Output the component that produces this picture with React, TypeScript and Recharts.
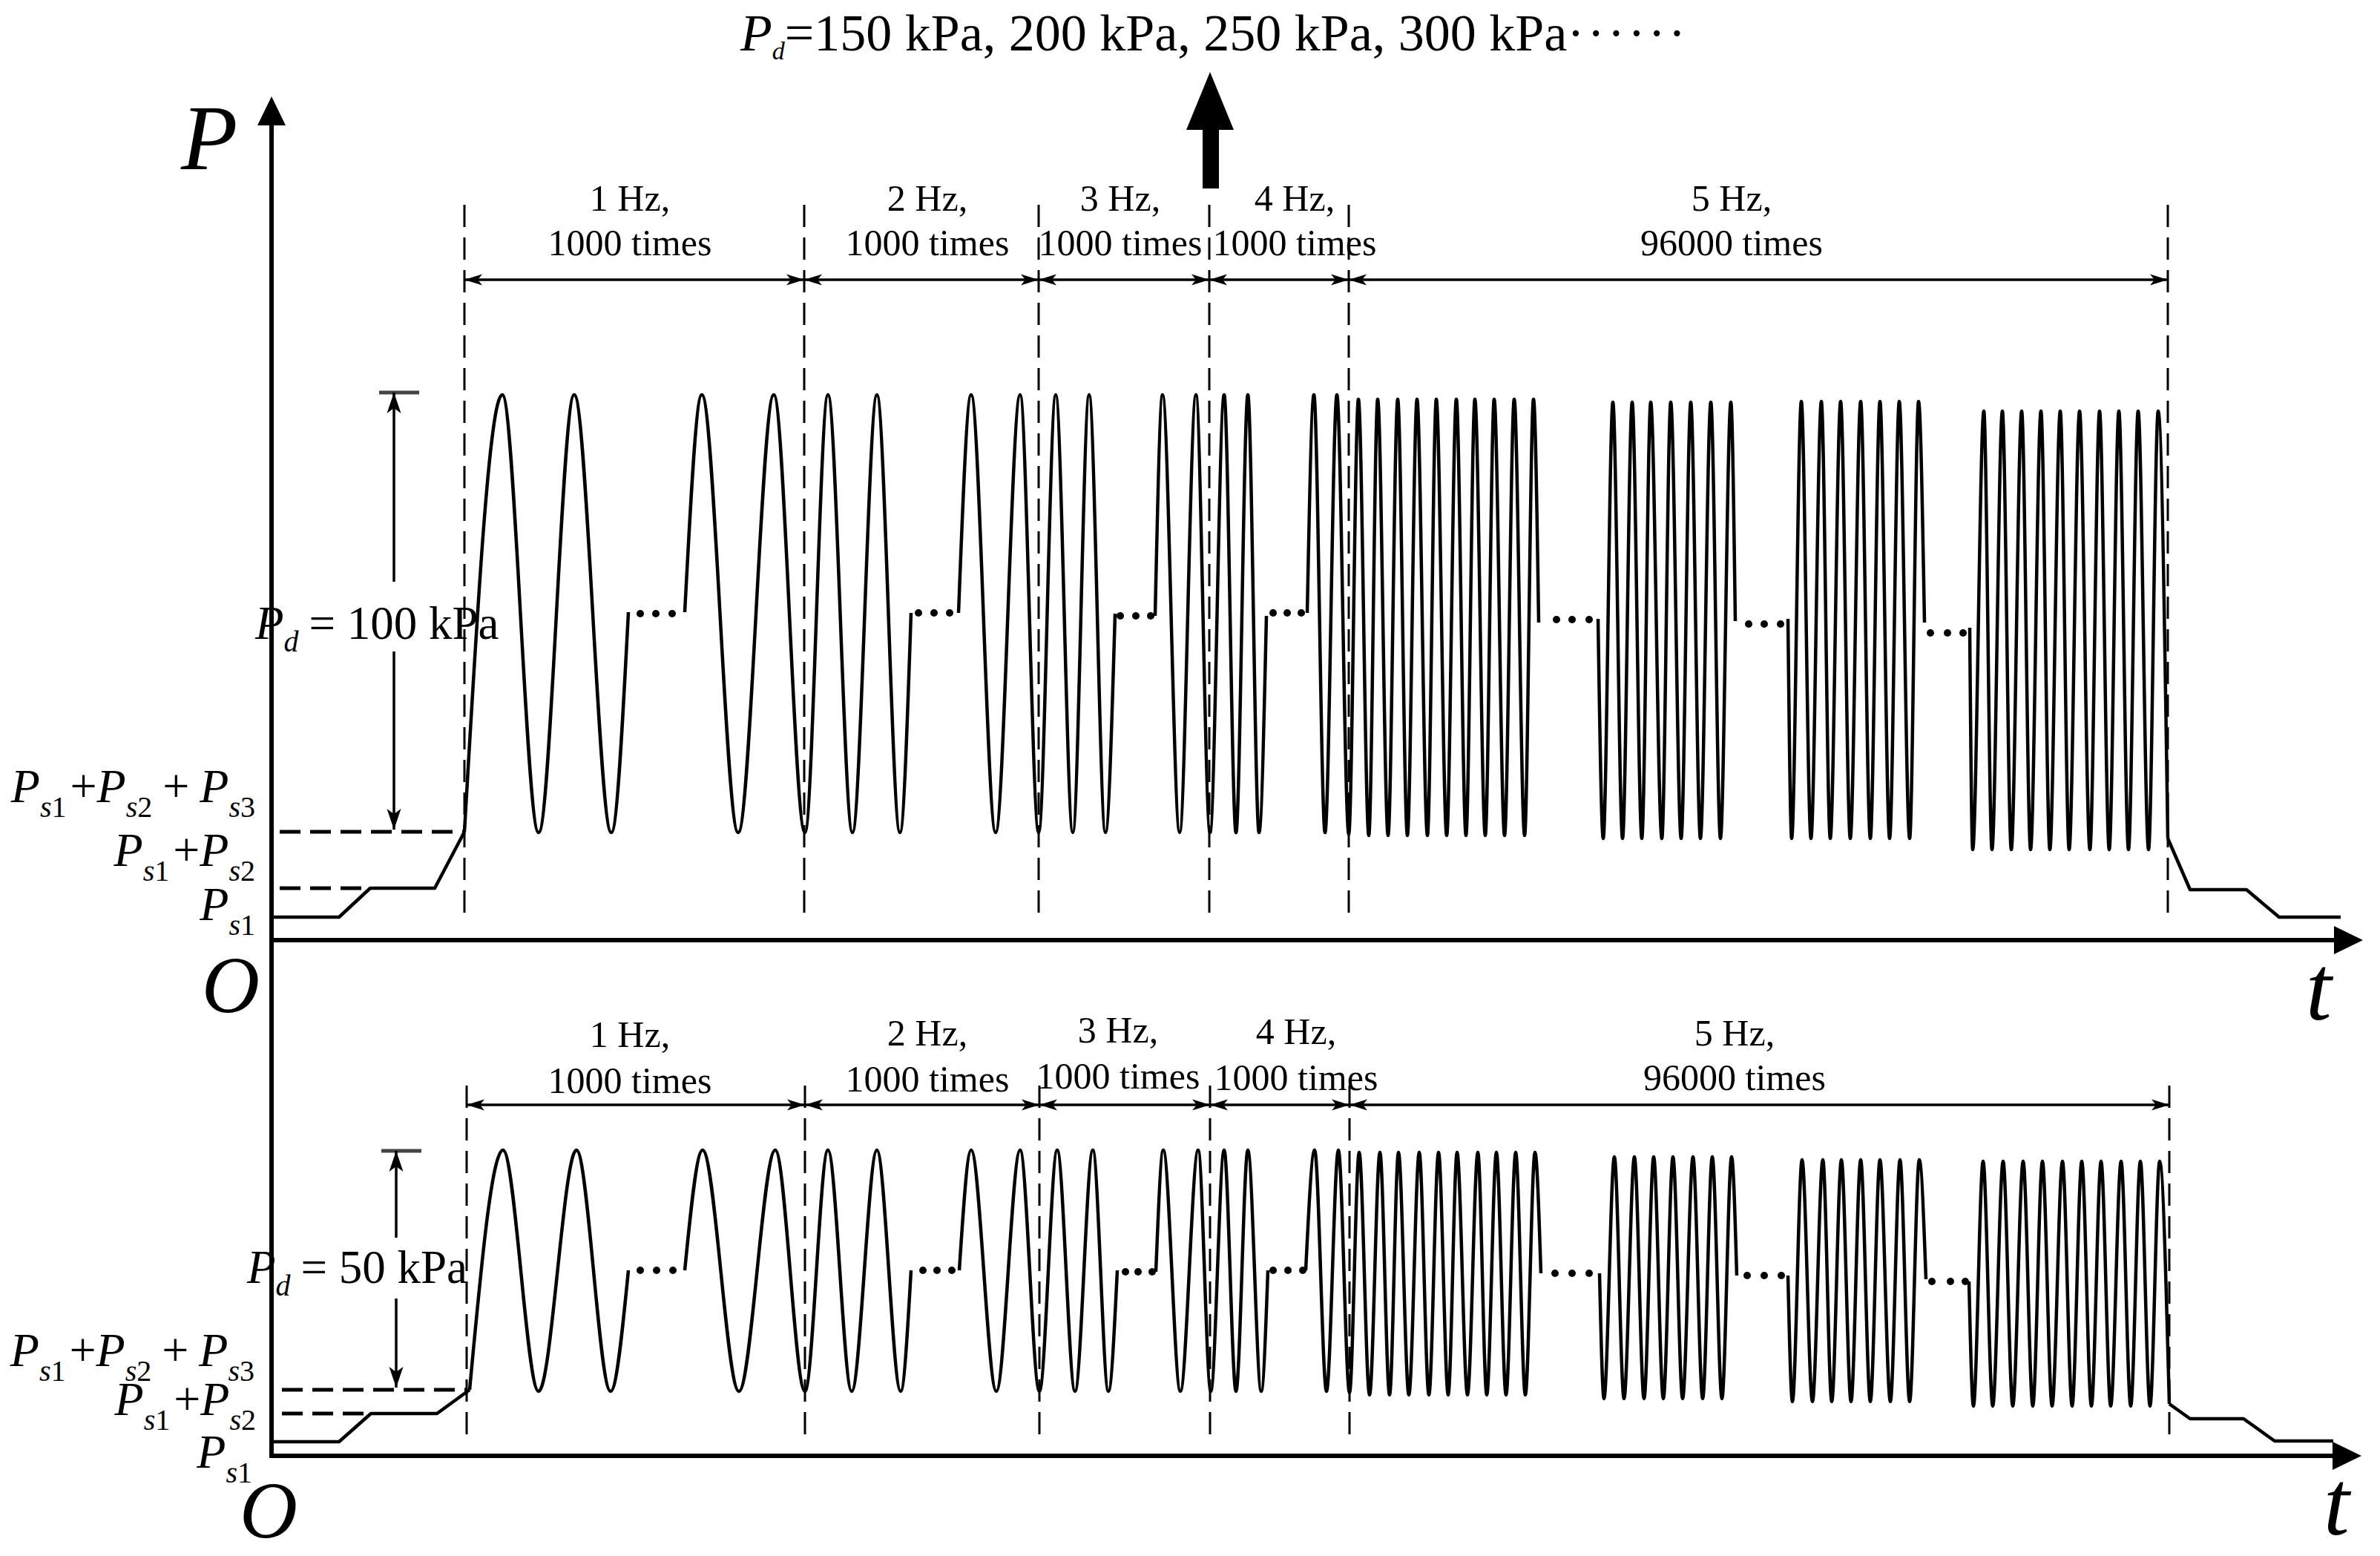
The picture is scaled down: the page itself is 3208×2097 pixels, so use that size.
import React from 'react';
import { ComposedChart, Line, XAxis, YAxis, ReferenceLine } from 'recharts';

const W = 3208;
const H = 2097;

// t: schematic time units from the origin; p: schematic pressure units above each t-axis
type Pt = [number, number];

// ---- upper panel (Pd = 100 kPa) ----
const topStart: Pt[] = [[0, 31], [91, 31], [133, 70], [220, 70], [260, 146]];
const topWaveA: Pt[] = [[260, 146], [311, 735], [360, 145], [408, 735], [458, 145], [481, 442]];
const topWaveB: Pt[] = [[557, 442], [580, 735], [629, 145], [677, 735], [719, 145], [750, 735], [783, 145], [816, 735], [847, 145], [862, 441]];
const topWaveC: Pt[] = [[926, 441], [943, 735], [976, 145], [1009, 735], [1034, 145], [1057, 735], [1080, 145], [1102, 735], [1124, 145], [1137, 440]];
const topWaveD: Pt[] = [[1191, 437], [1201, 735], [1224, 145], [1246, 735], [1265, 145], [1284, 735], [1300, 145], [1316, 735], [1331, 145], [1341, 437]];
const topWaveE: Pt[] = [[1396, 441], [1405, 735], [1420, 145], [1436, 735], [1452, 143], [1465, 729], [1479, 141], [1491, 729], [1505, 141], [1518, 729], [1531, 141], [1544, 729], [1558, 141], [1570, 729], [1584, 141], [1597, 729], [1610, 141], [1622, 729], [1636, 141], [1648, 729], [1662, 141], [1675, 729], [1689, 141], [1701, 729], [1708, 428]];
const topWaveF: Pt[] = [[1788, 433], [1795, 137], [1808, 725], [1821, 137], [1834, 725], [1847, 137], [1859, 725], [1874, 137], [1886, 725], [1900, 137], [1913, 725], [1926, 137], [1940, 725], [1953, 137], [1967, 725], [1973, 430]];
const topWaveG: Pt[] = [[2044, 433], [2049, 137], [2062, 726], [2075, 137], [2089, 726], [2101, 137], [2115, 726], [2128, 137], [2142, 726], [2155, 137], [2168, 726], [2181, 137], [2194, 726], [2208, 137], [2220, 726], [2228, 428]];
const topWaveH: Pt[] = [[2289, 421], [2293, 122], [2308, 713], [2319, 122], [2333, 713], [2345, 122], [2359, 713], [2371, 122], [2385, 713], [2397, 122], [2411, 713], [2423, 122], [2437, 713], [2451, 122], [2464, 713], [2477, 122], [2490, 713], [2503, 122], [2516, 713], [2530, 122], [2543, 713], [2556, 137]];
const topEnd: Pt[] = [[2556, 137], [2586, 68], [2662, 68], [2706, 31], [2789, 31]];
const topDots: Pt[] = [
  [497, 440], [518, 440], [540, 440],
  [872, 441], [893, 441], [914, 441],
  [1144, 437], [1165, 437], [1185, 437],
  [1350, 441], [1369, 441], [1388, 441],
  [1732, 432], [1753, 432], [1776, 432],
  [1991, 426], [2012, 426], [2034, 426],
  [2236, 414], [2259, 414], [2280, 414],
];
const topBounds = [260, 718, 1034, 1264, 1452, 2556];
const topLevels = { ps1: 31, ps12: 70, ps123: 146, peak: 738 };

// ---- lower panel (Pd = 50 kPa) ----
const botStart: Pt[] = [[0, 19], [91, 19], [134, 57], [223, 57], [267, 89]];
const botWaveA: Pt[] = [[267, 89], [312, 412], [360, 87], [411, 412], [457, 87], [481, 250]];
const botWaveB: Pt[] = [[557, 250], [581, 412], [630, 87], [679, 412], [719, 87], [750, 412], [782, 87], [816, 412], [848, 87], [862, 250]];
const botWaveC: Pt[] = [[927, 250], [943, 412], [977, 87], [1009, 412], [1035, 87], [1059, 412], [1083, 87], [1107, 412], [1128, 87], [1140, 250]];
const botWaveD: Pt[] = [[1192, 248], [1202, 412], [1225, 87], [1249, 412], [1266, 87], [1284, 412], [1300, 87], [1316, 412], [1334, 87], [1343, 250]];
const botWaveE: Pt[] = [[1394, 250], [1406, 412], [1422, 87], [1438, 412], [1453, 85], [1466, 409], [1480, 82], [1494, 409], [1507, 82], [1519, 409], [1533, 82], [1547, 409], [1560, 82], [1573, 409], [1586, 82], [1598, 409], [1612, 82], [1626, 409], [1638, 82], [1651, 409], [1664, 82], [1677, 409], [1690, 82], [1703, 409], [1711, 246]];
const botWaveF: Pt[] = [[1790, 246], [1796, 77], [1810, 403], [1823, 77], [1837, 403], [1850, 77], [1863, 403], [1876, 77], [1889, 403], [1902, 77], [1916, 403], [1929, 77], [1942, 403], [1955, 77], [1968, 403], [1975, 243]];
const botWaveG: Pt[] = [[2044, 243], [2050, 73], [2063, 399], [2077, 73], [2091, 399], [2103, 73], [2116, 399], [2129, 73], [2142, 399], [2155, 73], [2168, 399], [2182, 73], [2195, 399], [2208, 73], [2221, 399], [2230, 238]];
const botWaveH: Pt[] = [[2288, 235], [2294, 67], [2307, 397], [2320, 67], [2334, 397], [2347, 67], [2361, 397], [2374, 67], [2387, 397], [2400, 67], [2414, 397], [2427, 67], [2440, 397], [2453, 67], [2466, 397], [2479, 67], [2493, 397], [2506, 67], [2519, 397], [2532, 67], [2545, 397], [2558, 70]];
const botEnd: Pt[] = [[2558, 70], [2586, 50], [2658, 50], [2700, 20], [2779, 20]];
const botDots: Pt[] = [
  [497, 250], [519, 250], [541, 250],
  [878, 250], [897, 250], [917, 250],
  [1151, 248], [1168, 248], [1187, 248],
  [1350, 250], [1370, 250], [1390, 250],
  [1730, 246], [1753, 246], [1776, 246],
  [1989, 243], [2012, 243], [2035, 243],
  [2238, 235], [2263, 235], [2283, 235],
];
const botBounds = [263, 719, 1035, 1265, 1453, 2558];
const botLevels = { ps1: 19, ps12: 57, ps123: 89, peak: 411 };

const stageHz = ['1 Hz,', '2 Hz,', '3 Hz,', '4 Hz,', '5 Hz,'];
const stageTimes = ['1000 times', '1000 times', '1000 times', '1000 times', '96000 times'];
const topPdText = '= 100 kPa';
const botPdText = '= 50 kPa';
const seriesText = '=150 kPa, 200 kPa, 250 kPa, 300 kPa';

// layout (pixels)
const T_DOMAIN = [-366, 2842];
const TOP_DOMAIN = [-830, 1267];
const BOT_DOMAIN = [-135, 1962];
const FONT = "'Liberation Serif', 'Times New Roman', serif";

const toPts = (arr: Pt[]) => arr.map(([t, p]) => ({ t, p }));

const waveLine = (id: string, axis: string, arr: Pt[], type: 'monotone' | 'linear') => (
  <Line
    key={id}
    yAxisId={axis}
    data={toPts(arr)}
    dataKey="p"
    type={type}
    stroke="#000"
    strokeWidth={4.5}
    strokeLinejoin="round"
    dot={false}
    activeDot={false}
    isAnimationActive={false}
  />
);

const PsLabel = ({ x, y, n }: { x: number; y: number; n: number }) => {
  const items: React.ReactNode[] = [];
  for (let i = 1; i <= n; i++) {
    if (i > 1) items.push(<tspan key={'plus' + i} dy={-20} dx={i === 3 ? 14 : 5}>+</tspan>);
    items.push(<tspan key={'P' + i} fontStyle="italic" dx={i === 3 ? 14 : 0}>P</tspan>);
    items.push(<tspan key={'s' + i} fontStyle="italic" fontSize={40} dy={20}>s</tspan>);
    items.push(<tspan key={'n' + i} fontSize={40}>{i}</tspan>);
  }
  return <text x={x} y={y} textAnchor="end" fontSize={64}>{items}</text>;
};

const PdLabel = ({ x, y, text }: { x: number; y: number; text: string }) => (
  <text x={x} y={y} fontSize={63}>
    <tspan fontStyle="italic">P</tspan>
    <tspan fontStyle="italic" fontSize={40} dy={17}>d</tspan>
    <tspan dy={-17} dx={14}>{text}</tspan>
  </text>
);

const renderPanel = (axis: string, bounds: number[], levels: typeof topLevels, dimP: number, vTop: number, vBot: number, pdT: number, pdGap: [number, number], dashFrom: number) => {
  const els: React.ReactNode[] = [];
  bounds.forEach((b, i) => {
    els.push(
      <ReferenceLine key={axis + 'v' + i} yAxisId={axis} ifOverflow="visible" segment={[{ x: b, y: vBot }, { x: b, y: vTop }]}
        stroke="#000" strokeWidth={3} strokeDasharray="30 14" />
    );
    if (i < bounds.length - 1) {
      els.push(
        <ReferenceLine key={axis + 'd' + i} yAxisId={axis} ifOverflow="visible" segment={[{ x: b, y: dimP }, { x: bounds[i + 1], y: dimP }]}
          stroke="#000" strokeWidth={3.5} markerStart="url(#dimArrow)" markerEnd="url(#dimArrow)" />
      );
    }
  });
  els.push(
    <ReferenceLine key={axis + 'l3'} yAxisId={axis} ifOverflow="visible" segment={[{ x: dashFrom, y: levels.ps123 }, { x: bounds[0], y: levels.ps123 }]}
      stroke="#000" strokeWidth={5} strokeDasharray="28 13" />,
    <ReferenceLine key={axis + 'l2'} yAxisId={axis} ifOverflow="visible" segment={[{ x: dashFrom, y: levels.ps12 }, { x: 125 + (dashFrom - 11), y: levels.ps12 }]}
      stroke="#000" strokeWidth={5} strokeDasharray="28 13" />,
    <ReferenceLine key={axis + 'bar'} yAxisId={axis} ifOverflow="visible" segment={[{ x: pdT - 20, y: levels.peak }, { x: pdT + 34, y: levels.peak }]}
      stroke="#444" strokeWidth={5} />,
    <ReferenceLine key={axis + 'pd1'} yAxisId={axis} ifOverflow="visible" segment={[{ x: pdT, y: levels.peak }, { x: pdT, y: pdGap[0] }]}
      stroke="#000" strokeWidth={3.5} markerStart="url(#pdArrow)" />,
    <ReferenceLine key={axis + 'pd2'} yAxisId={axis} ifOverflow="visible" segment={[{ x: pdT, y: pdGap[1] }, { x: pdT, y: levels.ps123 + 3 }]}
      stroke="#000" strokeWidth={3.5} markerEnd="url(#pdArrow)" />,
  );
  return els;
};

export default function App() {
  const topWaves = [topWaveA, topWaveB, topWaveC, topWaveD, topWaveE, topWaveF, topWaveG, topWaveH];
  const botWaves = [botWaveA, botWaveB, botWaveC, botWaveD, botWaveE, botWaveF, botWaveG, botWaveH];
  const topLabelX = [849, 1250, 1510, 1745, 2334];
  const botLabelX = [849, 1250, 1507, 1747, 2338];
  const botHzY = [1411, 1409, 1405, 1407, 1409];
  const botTimesY = [1473, 1471, 1467, 1469, 1469];

  return (
    <div style={{ position: 'absolute', left: 0, top: 0, width: W, height: H, background: '#fff' }}>
      <svg width={0} height={0} style={{ position: 'absolute' }}>
        <defs>
          <marker id="dimArrow" markerUnits="userSpaceOnUse" viewBox="0 0 24 18" markerWidth={24} markerHeight={18} refX={24} refY={9} orient="auto-start-reverse">
            <path d="M0,1.5 L24,9 L0,16.5 L6,9 Z" fill="#000" />
          </marker>
          <marker id="pdArrow" markerUnits="userSpaceOnUse" viewBox="0 0 28 22" markerWidth={28} markerHeight={22} refX={28} refY={11} orient="auto-start-reverse">
            <path d="M0,1.5 L28,11 L0,20.5 L7,11 Z" fill="#000" />
          </marker>
          <marker id="axisArrow" markerUnits="userSpaceOnUse" viewBox="0 0 40 40" markerWidth={40} markerHeight={40} refX={1} refY={20} orient="auto">
            <path d="M0,1 L39,20 L0,39 Z" fill="#000" />
          </marker>
        </defs>
      </svg>

      <ComposedChart width={W} height={H} margin={{ top: 0, right: 0, bottom: 0, left: 0 }}>
        <XAxis type="number" dataKey="t" domain={T_DOMAIN} hide allowDataOverflow />
        <YAxis yAxisId="top" type="number" dataKey="p" domain={TOP_DOMAIN} hide allowDataOverflow />
        <YAxis yAxisId="bot" type="number" dataKey="p" domain={BOT_DOMAIN} hide allowDataOverflow />

        {/* axes */}
        <ReferenceLine yAxisId="top" ifOverflow="visible" segment={[{ x: 0, y: -698 }, { x: 0, y: 1099 }]} stroke="#000" strokeWidth={6} markerEnd="url(#axisArrow)" />
        <ReferenceLine yAxisId="top" ifOverflow="visible" segment={[{ x: -3, y: 0 }, { x: 2781, y: 0 }]} stroke="#000" strokeWidth={6} markerEnd="url(#axisArrow)" />
        <ReferenceLine yAxisId="bot" ifOverflow="visible" segment={[{ x: -3, y: 0 }, { x: 2779, y: 0 }]} stroke="#000" strokeWidth={6} markerEnd="url(#axisArrow)" />

        {renderPanel('top', topBounds, topLevels, 890, 997, 37, 165, [483, 389], 11)}
        {renderPanel('bot', botBounds, botLevels, 473, 504, 29, 168, [294, 212], 14)}

        {waveLine('ts', 'top', topStart, 'linear')}
        {topWaves.map((w, i) => waveLine('tw' + i, 'top', w, 'monotone'))}
        {waveLine('te', 'top', topEnd, 'linear')}
        <Line yAxisId="top" data={toPts(topDots)} dataKey="p" stroke="none" dot={{ r: 5, fill: '#000', stroke: 'none' }} activeDot={false} isAnimationActive={false} />

        {waveLine('bs', 'bot', botStart, 'linear')}
        {botWaves.map((w, i) => waveLine('bw' + i, 'bot', w, 'monotone'))}
        {waveLine('be', 'bot', botEnd, 'linear')}
        <Line yAxisId="bot" data={toPts(botDots)} dataKey="p" stroke="none" dot={{ r: 5, fill: '#000', stroke: 'none' }} activeDot={false} isAnimationActive={false} />
      </ComposedChart>

      <svg width={W} height={H} style={{ position: 'absolute', left: 0, top: 0, pointerEvents: 'none' }} fontFamily={FONT} fill="#000">
        {/* headline and big arrow */}
        <text x={998} y={68} fontSize={70}>
          <tspan fontStyle="italic">P</tspan>
          <tspan fontStyle="italic" fontSize={34} dy={12}>d</tspan>
          <tspan dy={-12}>{seriesText}</tspan>
          <tspan letterSpacing={4}>······</tspan>
        </text>
        <polygon points="1599,175 1663,175 1631,97" />
        <rect x={1621} y={174} width={22} height={80} />

        {/* axis letters */}
        <text x={244} y={228} fontSize={125} fontStyle="italic">P</text>
        <text x={272} y={1364} fontSize={108} fontStyle="italic">O</text>
        <text x={323} y={2072} fontSize={108} fontStyle="italic">O</text>
        <text x={3108} y={1374} fontSize={125} fontStyle="italic">t</text>
        <text x={3132} y={2068} fontSize={125} fontStyle="italic">t</text>

        {/* stage labels */}
        {stageHz.map((s, i) => (
          <text key={'th' + i} x={topLabelX[i]} y={284} fontSize={50} textAnchor="middle">{s}</text>
        ))}
        {stageTimes.map((s, i) => (
          <text key={'tt' + i} x={topLabelX[i]} y={344} fontSize={50} textAnchor="middle">{s}</text>
        ))}
        {stageHz.map((s, i) => (
          <text key={'bh' + i} x={botLabelX[i]} y={botHzY[i]} fontSize={50} textAnchor="middle">{s}</text>
        ))}
        {stageTimes.map((s, i) => (
          <text key={'bt' + i} x={botLabelX[i]} y={botTimesY[i]} fontSize={50} textAnchor="middle">{s}</text>
        ))}

        {/* level labels */}
        <PdLabel x={344} y={861} text={topPdText} />
        <PsLabel x={344} y={1081} n={3} />
        <PsLabel x={344} y={1167} n={2} />
        <PsLabel x={344} y={1240} n={1} />

        <PdLabel x={333} y={1729} text={botPdText} />
        <PsLabel x={343} y={1841} n={3} />
        <PsLabel x={345} y={1907} n={2} />
        <PsLabel x={340} y={1978} n={1} />
      </svg>
    </div>
  );
}
